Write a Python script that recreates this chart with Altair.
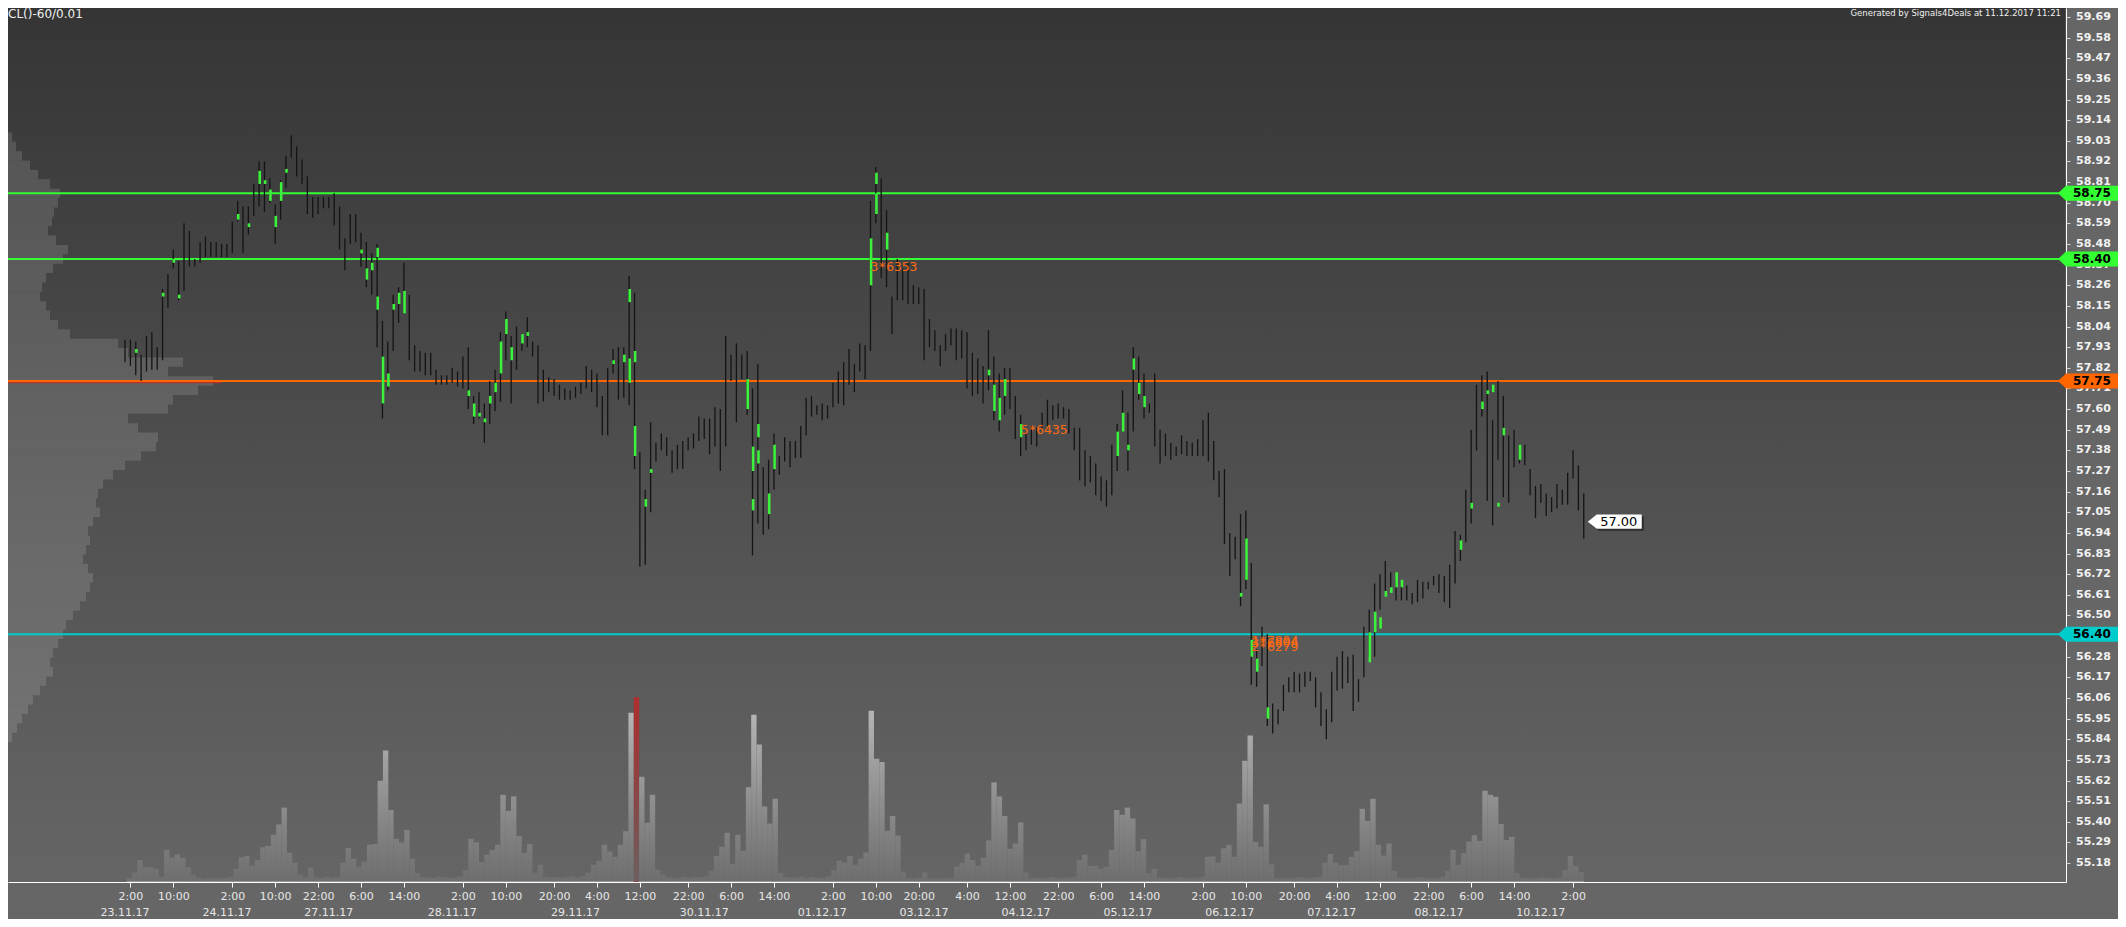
import altair as alt
import pandas as pd

W, H = 2058, 874
X_DOM = [-21.82, 361.92]
Y_DOM = [55.079, 59.738]

bar_high = [
    57.97, 57.97, 57.96, 57.89, 57.99, 58.01, 57.93, 58.24, 58.32, 58.45,
    58.39, 58.59, 58.55, 58.40, 58.49, 58.52, 58.49, 58.49, 58.48, 58.48,
    58.60, 58.71, 58.68, 58.68, 58.80, 58.92, 58.92, 58.83, 58.69, 58.82,
    58.95, 59.06, 59.00, 58.93, 58.84, 58.73, 58.73, 58.73, 58.73, 58.75,
    58.68, 58.51, 58.64, 58.64, 58.54, 58.49, 58.43, 58.48, 58.07, 57.96,
    58.21, 58.25, 58.38, 58.21, 57.94, 57.91, 57.90, 57.90, 57.81, 57.78,
    57.78, 57.82, 57.80, 57.88, 57.93, 57.67, 57.69, 57.63, 57.75, 57.81,
    58.01, 58.12, 57.99, 58.04, 58.00, 58.09, 57.96, 57.94, 57.81, 57.77,
    57.76, 57.73, 57.71, 57.70, 57.72, 57.74, 57.83, 57.81, 57.79, 57.67,
    57.82, 57.92, 57.93, 57.93, 58.31, 58.22, 57.37, 57.17, 57.53, 57.42,
    57.47, 57.45, 57.38, 57.41, 57.43, 57.45, 57.47, 57.56, 57.55, 57.55,
    57.61, 57.60, 57.99, 57.89, 57.95, 57.89, 57.91, 57.71, 57.84, 57.29,
    57.33, 57.47, 57.35, 57.45, 57.43, 57.43, 57.51, 57.66, 57.67, 57.62,
    57.63, 57.62, 57.74, 57.80, 57.85, 57.92, 57.84, 57.95, 57.94, 58.71,
    58.89, 58.83, 58.66, 58.20, 58.40, 58.35, 58.38, 58.26, 58.25, 58.24,
    58.08, 58.02, 57.94, 58.00, 58.03, 58.03, 58.02, 58.01, 57.90, 57.87,
    57.83, 58.02, 57.88, 57.79, 57.82, 57.82, 57.67, 57.57, 57.47, 57.51,
    57.50, 57.58, 57.65, 57.62, 57.63, 57.61, 57.60, 57.50, 57.50, 57.38,
    57.35, 57.31, 57.24, 57.22, 57.41, 57.52, 57.70, 57.58, 57.93, 57.88,
    57.79, 57.63, 57.79, 57.49, 57.47, 57.42, 57.40, 57.46, 57.43, 57.42,
    57.44, 57.54, 57.58, 57.43, 57.27, 57.28, 56.94, 56.92, 57.04, 57.06,
    56.78, 56.32, 56.44, 56.40, 56.03, 56.00, 56.13, 56.17, 56.20, 56.19,
    56.20, 56.20, 56.17, 56.09, 56.00, 56.20, 56.28, 56.31, 56.28, 56.29,
    56.16, 56.44, 56.53, 56.67, 56.72, 56.79, 56.73, 56.69, 56.66, 56.66,
    56.62, 56.69, 56.68, 56.68, 56.71, 56.72, 56.71, 56.77, 56.95, 56.93,
    57.17, 57.49, 57.73, 57.78, 57.80, 57.54, 57.75, 57.67, 57.46, 57.49,
    57.41, 57.41, 57.28, 57.19, 57.20, 57.15, 57.13, 57.20, 57.17, 57.26,
    57.38, 57.30, 57.15,
]
bar_low = [
    57.85, 57.83, 57.78, 57.75, 57.80, 57.81, 57.81, 57.86, 58.14, 58.35,
    58.18, 58.23, 58.36, 58.36, 58.38, 58.41, 58.41, 58.41, 58.41, 58.41,
    58.43, 58.60, 58.43, 58.53, 58.63, 58.68, 58.65, 58.70, 58.48, 58.61,
    58.78, 58.94, 58.84, 58.80, 58.64, 58.62, 58.64, 58.67, 58.67, 58.58,
    58.45, 58.34, 58.48, 58.49, 58.36, 58.25, 58.21, 57.93, 57.55, 57.70,
    57.91, 58.06, 58.11, 57.86, 57.80, 57.80, 57.78, 57.78, 57.73, 57.73,
    57.73, 57.74, 57.72, 57.71, 57.60, 57.52, 57.55, 57.42, 57.52, 57.59,
    57.64, 57.86, 57.63, 57.81, 57.91, 57.93, 57.88, 57.63, 57.64, 57.69,
    57.67, 57.65, 57.65, 57.65, 57.66, 57.68, 57.71, 57.69, 57.61, 57.46,
    57.46, 57.79, 57.65, 57.66, 57.62, 57.28, 56.76, 56.77, 57.05, 57.32,
    57.38, 57.35, 57.26, 57.28, 57.28, 57.38, 57.39, 57.43, 57.44, 57.36,
    57.40, 57.27, 57.40, 57.75, 57.53, 57.76, 57.57, 56.82, 56.99, 56.93,
    56.96, 57.17, 57.25, 57.32, 57.29, 57.34, 57.34, 57.46, 57.56, 57.57,
    57.54, 57.55, 57.61, 57.63, 57.62, 57.73, 57.69, 57.80, 57.76, 57.91,
    58.59, 58.30, 58.25, 58.00, 58.18, 58.18, 58.16, 58.16, 58.16, 57.86,
    57.93, 57.91, 57.83, 57.91, 57.94, 57.86, 57.87, 57.71, 57.67, 57.68,
    57.63, 57.70, 57.54, 57.48, 57.57, 57.60, 57.44, 57.35, 57.38, 57.41,
    57.40, 57.49, 57.51, 57.54, 57.55, 57.55, 57.47, 57.38, 57.22, 57.19,
    57.21, 57.14, 57.11, 57.08, 57.14, 57.27, 57.48, 57.27, 57.48, 57.65,
    57.55, 57.58, 57.40, 57.31, 57.35, 57.33, 57.35, 57.36, 57.35, 57.35,
    57.35, 57.35, 57.32, 57.22, 57.13, 56.88, 56.71, 56.80, 56.55, 56.64,
    56.13, 56.12, 56.23, 55.91, 55.87, 55.92, 55.99, 56.09, 56.09, 56.09,
    56.12, 56.15, 56.01, 55.91, 55.84, 55.93, 56.10, 56.11, 56.14, 55.99,
    56.04, 56.17, 56.28, 56.28, 56.53, 56.63, 56.65, 56.58, 56.58, 56.58,
    56.56, 56.57, 56.59, 56.64, 56.66, 56.62, 56.57, 56.54, 56.67, 56.79,
    56.89, 56.99, 57.38, 57.56, 57.11, 56.98, 57.33, 57.13, 57.10, 57.29,
    57.31, 57.30, 57.14, 57.02, 57.10, 57.03, 57.05, 57.07, 57.09, 57.09,
    57.23, 57.06, 56.91,
]
volume = [
    1.0, 2.4, 5.5, 3.7, 3.7, 3.3, 1.3, 8.0, 6.1, 6.9,
    6.0, 3.7, 1.8, 1.0, 0.8, 1.0, 0.9, 1.1, 1.0, 1.2,
    3.3, 6.2, 6.5, 4.1, 5.5, 8.7, 9.0, 11.8, 14.4, 18.6,
    7.3, 4.8, 1.8, 1.3, 3.6, 1.1, 1.0, 1.2, 1.0, 1.3,
    4.8, 8.5, 5.8, 3.8, 5.1, 9.3, 9.5, 25.3, 32.9, 18.0,
    10.8, 9.9, 13.0, 5.8, 2.2, 1.2, 1.1, 1.0, 1.3, 1.2,
    1.0, 1.1, 1.4, 3.0, 10.8, 9.9, 5.0, 6.8, 8.0, 9.3,
    21.8, 17.8, 21.4, 11.5, 7.3, 9.5, 2.3, 4.3, 1.3, 1.1,
    1.2, 1.0, 1.2, 1.4, 1.1, 1.5, 2.3, 4.3, 5.3, 9.3,
    7.6, 6.3, 9.3, 12.7, 42.3, 46.2, 26.3, 14.8, 21.8, 3.0,
    1.8, 1.2, 1.0, 1.1, 1.3, 1.0, 1.2, 1.1, 1.4, 2.8,
    6.5, 8.8, 12.3, 4.5, 11.8, 7.8, 23.7, 41.8, 34.4, 18.9,
    14.6, 20.8, 2.3, 1.2, 1.0, 1.1, 1.3, 1.0, 1.2, 1.1,
    1.0, 1.4, 3.0, 5.3, 4.8, 6.5, 4.3, 5.8, 7.4, 42.8,
    30.8, 30.0, 12.8, 16.5, 11.6, 2.6, 1.0, 0.9, 1.1, 2.4,
    0.8, 0.9, 0.8, 1.0, 0.9, 3.8, 4.8, 7.1, 5.5, 4.0,
    6.0, 10.4, 24.9, 21.4, 16.5, 8.3, 9.6, 14.9, 2.4, 1.0,
    1.1, 0.9, 1.0, 1.2, 1.0, 0.9, 1.1, 1.3, 5.5, 6.8,
    4.0, 4.0, 3.3, 3.8, 8.0, 18.0, 16.8, 18.6, 15.9, 7.7,
    10.7, 2.2, 3.3, 1.0, 1.1, 0.9, 1.0, 1.2, 1.0, 0.9,
    1.1, 1.3, 6.3, 6.4, 4.8, 8.4, 9.3, 6.3, 19.6, 30.3,
    36.6, 10.0, 8.8, 19.4, 4.4, 1.0, 1.1, 0.9, 1.0, 1.2,
    1.0, 0.9, 1.1, 1.3, 4.8, 7.0, 4.8, 4.2, 4.2, 6.3,
    7.7, 18.3, 15.3, 20.8, 9.3, 6.6, 9.6, 2.8, 1.0, 1.1,
    0.9, 1.0, 1.2, 1.0, 0.9, 1.1, 1.3, 2.8, 8.0, 4.3,
    7.2, 10.1, 11.7, 10.3, 22.8, 21.8, 21.3, 14.5, 10.5, 11.3,
    2.2, 1.0, 1.1, 0.9, 1.0, 1.2, 1.0, 0.9, 1.1, 3.0,
    6.5, 4.0, 2.5,
]
red_volume_bar = 95

green_idx = [2, 7, 9, 10, 21, 23, 25, 26, 27, 28, 29, 30, 44, 45, 46, 47, 47, 48, 49, 50,
             51, 52, 64, 65, 66, 67, 68, 69, 70, 71, 72, 74, 75, 91, 93, 94, 94, 95, 95, 97,
             98, 116, 117, 117, 118, 118, 120, 121, 139, 140, 140, 142, 161, 162, 163, 164, 167, 185, 186, 187,
             188, 189, 190, 208, 209, 210, 211, 213, 232, 233, 234, 235, 236, 237, 238, 249, 251, 253, 254, 255,
             256, 257, 260]
green_hi = [57.92, 58.22, 58.40, 58.21, 58.64, 58.59, 58.87, 58.82, 58.77, 58.63, 58.81, 58.88, 58.45, 58.35, 58.38, 58.46, 58.20, 57.88, 57.79, 58.16,
            58.22, 58.23, 57.70, 57.63, 57.58, 57.55, 57.67, 57.74, 57.96, 58.08, 57.93, 58.00, 58.01, 57.86, 57.89, 58.24, 57.87, 57.91, 57.51, 57.12,
            57.28, 57.76, 57.40, 57.12, 57.52, 57.38, 57.15, 57.41, 58.51, 58.86, 58.75, 58.54, 57.81, 57.73, 57.66, 57.76, 57.52, 57.48, 57.58, 57.41,
            57.87, 57.74, 57.67, 56.62, 56.91, 56.37, 56.27, 56.01, 56.41, 56.52, 56.49, 56.63, 56.65, 56.73, 56.69, 56.90, 57.10, 57.64, 57.70, 57.73,
            57.10, 57.50, 57.41]
green_lo = [57.90, 58.20, 58.38, 58.19, 58.61, 58.57, 58.80, 58.80, 58.71, 58.57, 58.71, 58.86, 58.43, 58.29, 58.34, 58.41, 58.13, 57.63, 57.72, 58.13,
            58.16, 58.11, 57.67, 57.56, 57.56, 57.53, 57.63, 57.69, 57.79, 58.00, 57.86, 57.95, 57.99, 57.84, 57.85, 58.17, 57.74, 57.85, 57.35, 57.08,
            57.26, 57.60, 57.27, 57.06, 57.45, 57.31, 57.04, 57.28, 58.26, 58.80, 58.64, 58.45, 57.78, 57.59, 57.54, 57.67, 57.45, 57.35, 57.48, 57.38,
            57.81, 57.68, 57.61, 56.60, 56.69, 56.28, 56.20, 55.95, 56.25, 56.41, 56.43, 56.60, 56.62, 56.65, 56.65, 56.85, 57.07, 57.60, 57.68, 57.69,
            57.08, 57.46, 57.33]

profile_price = [59.05, 59.00, 58.95, 58.90, 58.85, 58.80, 58.75, 58.70, 58.65, 58.60,
                 58.55, 58.50, 58.45, 58.40, 58.35, 58.30, 58.25, 58.20, 58.15, 58.10,
                 58.05, 58.00, 57.95, 57.90, 57.85, 57.80, 57.75, 57.70, 57.65, 57.60,
                 57.55, 57.50, 57.45, 57.40, 57.35, 57.30, 57.25, 57.20, 57.15, 57.10,
                 57.05, 57.00, 56.95, 56.90, 56.85, 56.80, 56.75, 56.70, 56.65, 56.60,
                 56.55, 56.50, 56.45, 56.40, 56.35, 56.30, 56.25, 56.20, 56.15, 56.10,
                 56.05, 56.00, 55.95, 55.90, 55.85]
profile_size = [4, 8, 14, 22, 30, 42, 52, 50, 46, 44,
                40, 48, 60, 55, 45, 38, 34, 32, 38, 42,
                50, 62, 110, 120, 175, 160, 205, 190, 165, 160,
                120, 130, 150, 148, 133, 117, 105, 95, 90, 88,
                92, 85, 80, 82, 78, 75, 80, 85, 82, 78,
                72, 65, 58, 55, 50, 45, 42, 45, 38, 32,
                25, 20, 14, 9, 4]
poc_price = 57.745
poc_size = 213

level_price = [58.75, 58.40, 57.75, 56.40]
level_label = ["58.75", "58.40", "57.75", "56.40"]
level_color = ["#33ff33", "#33ff33", "#ff6600", "#00cccc"]

tick_idx = [1, 9, 20, 28, 36, 44, 52, 63, 71, 80, 88, 96, 105, 113, 121, 132,
            140, 148, 157, 165, 174, 182, 190, 201, 209, 218, 226, 234, 243, 251, 259, 270]
tick_labels = ["2:00", "10:00", "2:00", "10:00", "22:00", "6:00", "14:00", "2:00",
               "10:00", "20:00", "4:00", "12:00", "22:00", "6:00", "14:00", "2:00",
               "10:00", "20:00", "4:00", "12:00", "22:00", "6:00", "14:00", "2:00",
               "10:00", "20:00", "4:00", "12:00", "22:00", "6:00", "14:00", "2:00"]
date_idx = [0, 19, 38, 61, 84, 108, 130, 149, 168, 187, 206, 225, 245, 264]
date_labels = ["23.11.17", "24.11.17", "27.11.17", "28.11.17", "29.11.17", "30.11.17", "01.12.17",
               "03.12.17", "04.12.17", "05.12.17", "06.12.17", "07.12.17", "08.12.17", "10.12.17"]
y_ticks = [round(59.69 - 0.11 * k, 2) for k in range(42)]

ann_idx = [139, 167, 210, 210, 210]
ann_price = [58.36, 57.49, 56.365, 56.355, 56.33]
ann_text = ["3*6353", "5*6435", "1*7804", "3*6804", "2*6279"]

last_idx = 272
last_price = 57.00
last_label = "57.00"

# ---------------------------------------------------------------- frames
n = min(len(bar_high), len(bar_low))
bars = pd.DataFrame({"idx": list(range(n)), "high": bar_high[:n], "low": bar_low[:n]})
nv = min(len(volume), n)
vol = pd.DataFrame({"idx": list(range(nv)), "vol": volume[:nv]})
vol["red"] = vol["idx"] == red_volume_bar
greens = pd.DataFrame({"idx": green_idx, "hi": green_hi, "lo": green_lo})
prof = pd.DataFrame({"price": profile_price, "size": profile_size})
prof["lo"] = prof["price"] - 0.025
prof["hi"] = prof["price"] + 0.025
prof["zero"] = 0
poc = pd.DataFrame({"price": [poc_price], "size": [poc_size], "zero": [0]})
levels = pd.DataFrame({"price": level_price, "label": level_label, "col": level_color})
dates = pd.DataFrame({"idx": date_idx, "label": date_labels})
ann = pd.DataFrame({"idx": ann_idx, "price": ann_price, "label": ann_text})
last = pd.DataFrame({"idx": [last_idx], "price": [last_price], "label": [last_label]})
yt = pd.DataFrame({"price": y_ticks})
one = pd.DataFrame({"a": [0]})

xs = alt.Scale(domain=X_DOM, nice=False, zero=False)
ys = alt.Scale(domain=Y_DOM, nice=False, zero=False)

expr = ""
for i, l in zip(tick_idx, tick_labels):
    expr += f"datum.value == {i} ? '{l}' : "
expr += "''"

x_axis = alt.Axis(values=tick_idx, labelExpr=expr, orient="bottom", domainColor="#ffffff",
                  domainWidth=1, tickColor="#ffffff", tickSize=5, labelColor="#e6e6e6",
                  labelFont="DejaVu Sans", labelFontSize=11, labelPadding=3,
                  labelOverlap=False, labelFlush=False, grid=False, title=None)
y_axis = alt.Axis(orient="right", values=y_ticks, labels=False, tickColor="#cfcfcf",
                  tickSize=4, domainColor="#ffffff", labelOverlap=False, grid=False, title=None)


def X(field):
    return alt.X(field, scale=xs, axis=x_axis)


def Y(field):
    return alt.Y(field, scale=ys, axis=y_axis)


# background gradient of plot area
bg = alt.Chart(one).mark_rect(
    color=alt.LinearGradient(gradient="linear",
                             stops=[alt.GradientStop(color="#353535", offset=0),
                                    alt.GradientStop(color="#666666", offset=1)],
                             x1=0, x2=0, y1=0, y2=1)
).encode(x=alt.value(0), x2=alt.value(W - 0.5), y=alt.value(0), y2=alt.value(H - 0.5))

# volume bars
vol_layer = alt.Chart(vol).mark_bar(size=5.4).encode(
    x=alt.X("idx:Q", scale=xs, axis=None),
    y=alt.Y("vol:Q", scale=alt.Scale(domain=[0, H / 4], nice=False), axis=None),
    color=alt.condition(alt.datum.red, alt.value("#b52a2a"), alt.value("#c4c4c4")),
)

fade = alt.Chart(one).mark_rect(
    color=alt.LinearGradient(gradient="linear",
                             stops=[alt.GradientStop(color="rgba(92,92,92,0)", offset=0),
                                    alt.GradientStop(color="rgba(101,101,101,0.9)", offset=1)],
                             x1=0, x2=0, y1=0, y2=1)
).encode(x=alt.value(0), x2=alt.value(W - 0.5), y=alt.value(672), y2=alt.value(H - 0.5))

# volume profile
pxs = alt.Scale(domain=[0, W], nice=False)
prof_layer = alt.layer(
    alt.Chart(prof).mark_rect(color="#ffffff", opacity=0.13).encode(
        x=alt.X("zero:Q", scale=pxs, axis=None), x2="size:Q",
        y=alt.Y("lo:Q", scale=ys, axis=None), y2="hi:Q",
    ),
    alt.Chart(poc).mark_rule(color="#c0302a", strokeWidth=3, opacity=0.9).encode(
        x=alt.X("zero:Q", scale=pxs, axis=None), x2="size:Q",
        y=alt.Y("price:Q", scale=ys, axis=None),
    ),
)

flag_path = "M-1,0L-0.765,-0.22L1,-0.22L1,0.22L-0.765,0.22Z"
last_path = "M-1,0L-0.667,-0.26L1,-0.26L1,0.26L-0.667,0.26Z"

price_layer = alt.layer(
    alt.Chart(levels).mark_rule(strokeWidth=2).encode(
        y=Y("price:Q"), x=alt.value(0), x2=alt.value(W),
        color=alt.Color("col:N", scale=None),
    ),
    alt.Chart(bars).mark_rule(color="#141414", strokeWidth=1.3).encode(
        x=X("idx:Q"), y=Y("low:Q"), y2="high:Q",
    ),
    alt.Chart(greens).mark_rule(color="#3df23d", strokeWidth=2.6, xOffset=0.6).encode(
        x=X("idx:Q"), y=Y("lo:Q"), y2="hi:Q",
    ),
    # right-hand price labels (every tick)
    alt.Chart(yt).mark_text(font="DejaVu Sans", fontWeight="bold", fontSize=11,
                            color="#f2f2f2", align="left", baseline="middle").encode(
        y=Y("price:Q"), x=alt.value(W + 10),
        text=alt.Text("price:Q", format=".2f")),
    alt.Chart(ann).mark_text(align="left", baseline="middle", font="DejaVu Sans Mono",
                             fontSize=13, color="#ff6a10").encode(
        x=X("idx:Q"), y=Y("price:Q"), text="label:N"),
    alt.Chart(last).mark_point(shape=last_path, size=2916, filled=True, color="#000000",
                               opacity=0.45, xOffset=33, yOffset=2, strokeWidth=0).encode(
        x=X("idx:Q"), y=Y("price:Q")),
    alt.Chart(last).mark_point(shape=last_path, size=2916, filled=True, color="#ffffff",
                               opacity=1, xOffset=31, strokeWidth=0).encode(
        x=X("idx:Q"), y=Y("price:Q")),
    alt.Chart(last).mark_text(font="DejaVu Sans", fontSize=13, color="#000000",
                              align="center", baseline="middle", xOffset=35).encode(
        x=X("idx:Q"), y=Y("price:Q"), text="label:N"),
    alt.Chart(levels).mark_point(shape=flag_path, size=4624, filled=True, opacity=1,
                                 strokeWidth=0).encode(
        y=Y("price:Q"), x=alt.value(W + 26),
        color=alt.Color("col:N", scale=None)),
    alt.Chart(levels).mark_text(font="DejaVu Sans", fontWeight="bold", fontSize=12,
                                color="#000000", align="center", baseline="middle").encode(
        y=Y("price:Q"), x=alt.value(W + 26), text="label:N"),
    alt.Chart(dates).mark_text(font="DejaVu Sans", fontSize=11, color="#e6e6e6",
                               align="center", baseline="middle").encode(
        x=X("idx:Q"), y=alt.value(905), text="label:N"),
    alt.Chart(one).mark_text(text="CL()-60/0.01", font="DejaVu Sans", fontSize=12,
                             color="#f0f0f0", align="left", baseline="top").encode(
        x=alt.value(0), y=alt.value(1)),
    alt.Chart(one).mark_text(text="Generated by Signals4Deals at 11.12.2017 11:21",
                             font="DejaVu Sans", fontSize=8.5, color="#f0f0f0",
                             align="right", baseline="top").encode(
        x=alt.value(W - 5), y=alt.value(1)),
)

chart = alt.layer(bg, vol_layer, fade, prof_layer, price_layer).resolve_scale(
    x="independent", y="independent"
).properties(
    width=W, height=H, background="#666666",
    padding={"left": 0, "top": 0, "right": 52, "bottom": 37},
    autosize=alt.AutoSizeParams(type="none"),
).configure_view(stroke=None)

chart.save("out.html", embed_options={"renderer": "svg", "actions": False})
